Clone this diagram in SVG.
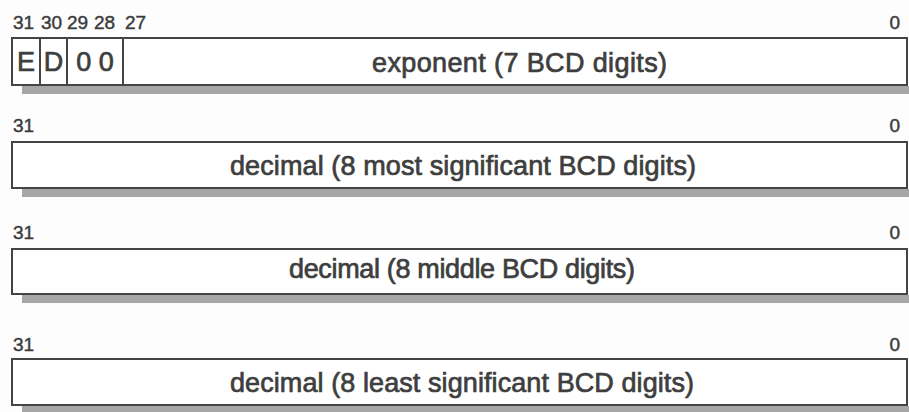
<svg xmlns="http://www.w3.org/2000/svg" width="909" height="412" viewBox="0 0 909 412">
<style>
.bg{fill:#fdfdfd}
.box{fill:#ffffff;stroke:#444;stroke-width:2}
.shadow{fill:#a6a6a6}
.div{stroke:#444;stroke-width:2}
.lbl{font-family:"Liberation Sans",Arial,sans-serif;font-size:19px;fill:#3c3c3c;stroke:#3c3c3c;stroke-width:0.45}
.main{font-family:"Liberation Sans",Arial,sans-serif;font-size:27px;fill:#3e3e3e;stroke:#3e3e3e;stroke-width:0.7}
</style>
<rect class="bg" x="0" y="0" width="909" height="412"/>
<g id="reg0">
<rect class="shadow" x="22" y="86" width="887" height="8"/>
<rect class="box" x="12" y="38" width="895" height="47"/>
<line class="div" x1="40" y1="38" x2="40" y2="85"/>
<line class="div" x1="67" y1="38" x2="67" y2="85"/>
<line class="div" x1="123" y1="38" x2="123" y2="85"/>
<text class="lbl" x="13" y="29">31</text>
<text class="lbl" x="41" y="29">30</text>
<text class="lbl" x="67" y="29">29</text>
<text class="lbl" x="94" y="29">28</text>
<text class="lbl" x="125" y="29">27</text>
<text class="lbl" x="900" y="29" text-anchor="end">0</text>
<text class="main" x="26" y="71" text-anchor="middle">E</text>
<text class="main" x="53.5" y="71" text-anchor="middle">D</text>
<text class="main" x="95" y="71" text-anchor="middle">0 0</text>
<text class="main" x="519.5" y="72" text-anchor="middle" textLength="295" lengthAdjust="spacing">exponent (7 BCD digits)</text>
</g>
<g id="reg1">
<rect class="shadow" x="22" y="189" width="887" height="8"/>
<rect class="box" x="12" y="142" width="895" height="46"/>
<text class="lbl" x="13" y="132">31</text>
<text class="lbl" x="900" y="132" text-anchor="end">0</text>
<text class="main" x="463" y="175" text-anchor="middle" textLength="466" lengthAdjust="spacing">decimal (8 most significant BCD digits)</text>
</g>
<g id="reg2">
<rect class="shadow" x="22" y="295" width="887" height="8"/>
<rect class="box" x="12" y="249" width="895" height="45"/>
<text class="lbl" x="13" y="239">31</text>
<text class="lbl" x="900" y="239" text-anchor="end">0</text>
<text class="main" x="462" y="278" text-anchor="middle" textLength="346" lengthAdjust="spacing">decimal (8 middle BCD digits)</text>
</g>
<g id="reg3">
<rect class="shadow" x="22" y="406" width="887" height="8"/>
<rect class="box" x="12" y="359" width="895" height="46"/>
<text class="lbl" x="13" y="351">31</text>
<text class="lbl" x="900" y="351" text-anchor="end">0</text>
<text class="main" x="462" y="392" text-anchor="middle" textLength="464" lengthAdjust="spacing">decimal (8 least significant BCD digits)</text>
</g>
</svg>
